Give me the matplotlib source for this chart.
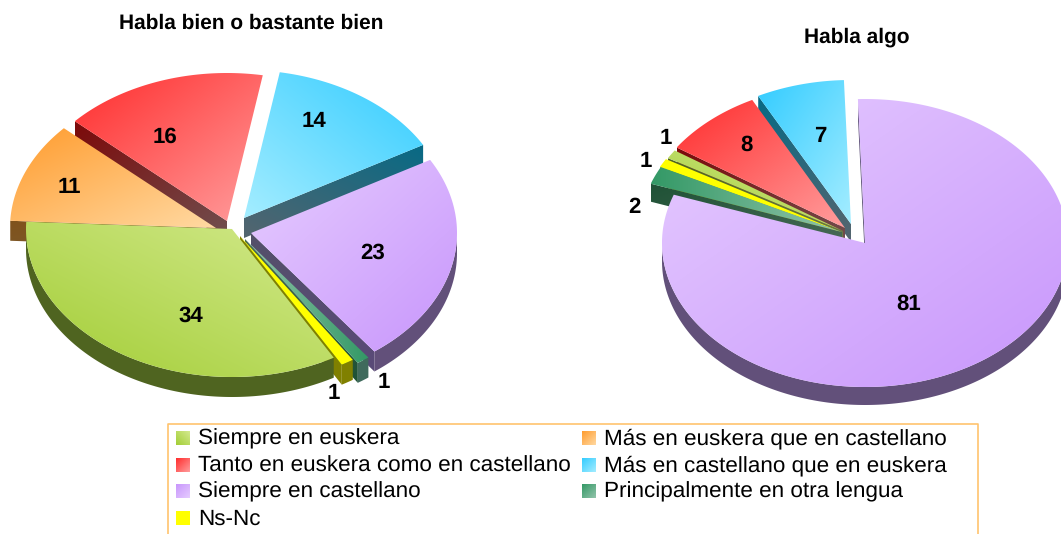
import numpy as np
import matplotlib
matplotlib.use('Agg')
import matplotlib.pyplot as plt
from matplotlib.colors import to_rgb
from matplotlib.patches import Polygon

plt.rcParams['font.family'] = ['Liberation Sans', 'DejaVu Sans']
plt.rcParams['text.hinting'] = 'no_hinting'

categories = ['Siempre en euskera', 'Más en euskera que en castellano',
              'Tanto en euskera como en castellano', 'Más en castellano que en euskera',
              'Siempre en castellano', 'Principalmente en otra lengua', 'Ns-Nc']
values_left = [34, 11, 16, 14, 23, 1, 1]
values_right = [1, 0, 8, 7, 81, 2, 1]

# colores: cara oscura, cara clara, borde, pared
dark = ['#a2cd35', '#ff9c2e', '#ff2d2d', '#33ccff', '#c896fc', '#339966', '#ffff00']
light = ['#d4ea8e', '#ffd9a2', '#ff9d9d', '#a4edff', '#e6ccff', '#93c4ab', '#ffff00']
rim = ['#4f6420', '#80531c', '#7a1616', '#125f78', '#62507a', '#3f6a5c', '#808000']
wall_out = ['#4f6420', '#80531c', '#7c0a0a', '#086a85', '#5a4a78', '#1f5236', '#808000']
wall_in = ['#6a7a48', '#7a5a30', '#705050', '#54656f', '#54506a', '#4a6a58', '#808000']


def arc(apex, rx, ry, a0, a1):
    t = np.radians(np.linspace(a0, a1, max(int(a1 - a0) * 2, 2)))
    return np.column_stack([apex[0] + rx * np.sin(t), apex[1] - ry * np.cos(t)])


def gradient_fill(ax, pts, c0, c1, direction, zorder):
    # degradado lineal recortado al poligono
    x0, y0 = pts.min(axis=0)
    x1, y1 = pts.max(axis=0)
    xx, yy = np.meshgrid(np.linspace(0, 1, 64), np.linspace(0, 1, 64))
    t = xx * direction[0] + yy * direction[1]
    t = (t - t.min()) / max(t.max() - t.min(), 1e-6)
    c0, c1 = np.array(to_rgb(c0)), np.array(to_rgb(c1))
    img = c0 + (c1 - c0) * t[..., None]
    im = ax.imshow(img, extent=(x0, x1, y1, y0), aspect='auto', zorder=zorder,
                   interpolation='bilinear', origin='upper')
    im.set_clip_path(Polygon(pts, closed=True, transform=ax.transData))


def draw_pie(ax, values, start, apexes, rx, ry, depth, order, dirs):
    angles = np.cumsum([0] + list(values)) * 3.6 + start
    z = 2
    for i in order:
        if values[i] == 0:
            continue
        a0, a1 = angles[i], angles[i + 1]
        apex = apexes[i]
        outer = arc(apex, rx, ry, a0, a1)
        down = np.array([0, depth])
        ap = np.array(apex, dtype=float)
        # paredes de los cortes, solo las que miran hacia abajo
        edges = []
        if np.sin(np.radians(a0)) < 0:
            edges.append(outer[0])
        if np.sin(np.radians(a1)) > 0.2:
            edges.append(outer[-1])
        for p in edges:
            quad = np.array([ap, p, p + down, ap + down])
            d = (p[0] - ap[0], p[1] - ap[1])
            gradient_fill(ax, quad, wall_in[i], wall_out[i],
                          (np.sign(d[0]), np.sign(d[1])), z)
        # borde exterior, solo la mitad delantera
        front = outer[outer[:, 1] > ap[1]]
        if len(front) > 1:
            band = np.vstack([front, (front + down)[::-1]])
            ax.fill(band[:, 0], band[:, 1], color=rim[i], zorder=z, lw=0)
        top = np.vstack([ap, outer])
        gradient_fill(ax, top, light[i], dark[i], dirs[i], z + 0.5)
        z += 1


fig = plt.figure(figsize=(10.61, 5.34), dpi=100)
ax = fig.add_axes([0, 0, 1, 1])

apex_left = [(232, 229), (216, 228), (227, 221), (244, 218), (251, 233), (245, 239), (240, 236)]
dirs_left = [(-1, 1), (-1, -1), (-1, -1), (1, -1), (1, 1), (1, 0), (-1, 0)]
draw_pie(ax, values_left, 150.4, apex_left, 206, 148, 20, [2, 3, 1, 4, 5, 6, 0], dirs_left)

apex_right = [(843, 231), (843, 231), (845, 228), (851, 224), (865, 243), (842, 232), (841, 232)]
dirs_right = [(-1, 1), (-1, -1), (-1, -1), (-1, -1), (1, 1), (-1, 0), (-1, 0)]
draw_pie(ax, values_right, 300.4, apex_right, 203, 144, 18, [3, 2, 0, 6, 5, 4], dirs_right)

# etiquetas de valores
labels_left = [(191, 316), (69, 187), (165, 137), (314, 121), (373, 253), (384, 382), (334, 393)]
labels_right = [(666, 138), None, (746, 145), (820, 136), (909, 304), (634, 207), (646, 161)]
for vals, pos in ((values_left, labels_left), (values_right, labels_right)):
    for v, p in zip(vals, pos):
        if p is not None:
            ax.text(p[0], p[1], str(v), ha='center', va='center', fontsize=16,
                    fontweight='bold', color='black', zorder=50)

ax.text(251, 23, 'Habla bien o bastante bien', ha='center', va='center',
        fontsize=15, fontweight='bold', zorder=50)
ax.text(857, 37, 'Habla algo', ha='center', va='center',
        fontsize=15, fontweight='bold', zorder=50)

# leyenda (el borde inferior queda fuera de la imagen)
ax.plot([168, 168, 978, 978], [540, 424, 424, 540], color='#ffc46e', lw=1.2, zorder=40)
rows_y = [438, 465, 491, 518]
cols = [(176, 198), (582, 604)]
for i, name in enumerate(categories):
    sx, tx = cols[i % 2]
    y = rows_y[i // 2]
    sq = np.array([[sx, y - 7], [sx + 14, y - 7], [sx + 14, y + 7], [sx, y + 7]], dtype=float)
    gradient_fill(ax, sq, dark[i], light[i], (1, -1) if i == 0 else (1, 1), 41)
    ax.text(tx, y + 1, name, ha='left', va='center', fontsize=16.2, color='black', zorder=50)

ax.set_xlim(0, 1061)
ax.set_ylim(534, 0)
ax.axis('off')
fig.savefig('out.png', dpi=100, facecolor='white')
plt.close(fig)
